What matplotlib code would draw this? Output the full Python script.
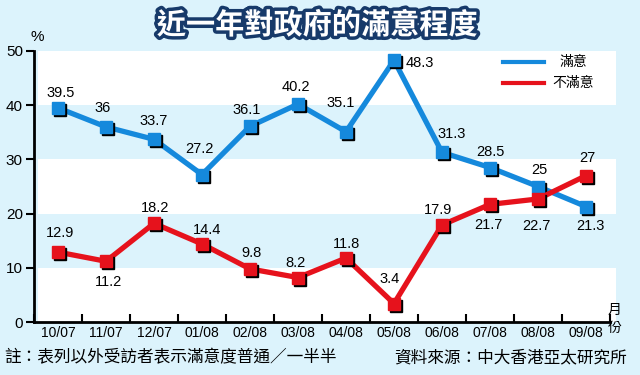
import matplotlib
matplotlib.use("Agg")
import matplotlib.pyplot as plt
import matplotlib.patheffects as pe
import matplotlib.transforms as mtransforms
from matplotlib.lines import Line2D

plt.rcParams['font.family'] = ['Liberation Sans', 'Noto Sans CJK TC', 'DejaVu Sans']

months = ['10/07', '11/07', '12/07', '01/08', '02/08', '03/08',
          '04/08', '05/08', '06/08', '07/08', '08/08', '09/08']
satisfied = [39.5, 36, 33.7, 27.2, 36.1, 40.2, 35.1, 48.3, 31.3, 28.5, 25, 21.3]
unsatisfied = [12.9, 11.2, 18.2, 14.4, 9.8, 8.2, 11.8, 3.4, 17.9, 21.7, 22.7, 27]
sat_labels = ['39.5', '36', '33.7', '27.2', '36.1', '40.2', '35.1', '48.3', '31.3', '28.5', '25', '21.3']
unsat_labels = ['12.9', '11.2', '18.2', '14.4', '9.8', '8.2', '11.8', '3.4', '17.9', '21.7', '22.7', '27']

# label offsets in pixels (dx, dy)
sat_off = [(3, 15), (-3, 19), (0, 18), (-3, 26), (-3, 16), (-2, 17), (-5, 29), (26, -3), (10, 18), (0, 16), (1, 17), (4, -19)]
unsat_off = [(2, 19), (2, -21), (1, 15), (5, 14), (2, 16), (-2, 15), (0, 14), (-4, 25), (-4, 15), (-2, -21), (-2, -27), (1, 18)]

bg = '#dcf3fc'
blue = '#1589dc'
red = '#e6121c'

fig = plt.figure(figsize=(6.4, 3.75), dpi=100)
fig.patch.set_facecolor(bg)
ax = fig.add_axes([34 / 640, 1 - 322 / 375, 582 / 640, 271 / 375])
ax.set_facecolor(bg)
x = list(range(len(months)))
ax.set_xlim(-0.5, 11.625)
ax.set_ylim(0, 50)

for lo in (0, 20, 40):
    ax.axhspan(lo, lo + 10, xmin=0.007, color='white', lw=0, zorder=0)

shadow = mtransforms.offset_copy(ax.transData, fig=fig, x=2, y=-2, units='dots')
for k, (vals, col) in enumerate(((satisfied, blue), (unsatisfied, red))):
    z = 3 + 3 * k
    ax.plot(x, vals, color=col, lw=3.8, zorder=z)
    ax.plot(x, vals, ls='none', marker='s', ms=8, color='black', transform=shadow, zorder=z + 1)
    ax.plot(x, vals, ls='none', marker='s', ms=8, color=col, mec=col, zorder=z + 2)

for i in x:
    ax.annotate(sat_labels[i], (i, satisfied[i]), xytext=sat_off[i], textcoords='offset pixels',
                ha='center', va='center', fontsize=10.5, zorder=10)
    ax.annotate(unsat_labels[i], (i, unsatisfied[i]), xytext=unsat_off[i], textcoords='offset pixels',
                ha='center', va='center', fontsize=10.5, zorder=10)

for s in ('top', 'right'):
    ax.spines[s].set_visible(False)
ax.spines['left'].set_linewidth(2)
ax.spines['bottom'].set_linewidth(2)
ax.spines['bottom'].set_bounds(-0.5, 11.5)

ax.set_yticks([0, 10, 20, 30, 40, 50])
ax.tick_params(axis='y', direction='out', length=6, width=1.5, labelsize=11, pad=2)
ax.set_xticks([i + 0.5 for i in range(-1, 12)], minor=False)
ax.set_xticklabels([])
ax.tick_params(axis='x', which='major', direction='in', length=6, width=1.5)
ax.set_xticks(x, minor=True)
ax.set_xticklabels(months, minor=True)
ax.tick_params(axis='x', which='minor', length=0, labelsize=10, pad=3)

# legend drawn by hand
for yy, col, name in ((62, blue, '滿意'), (83, red, '不滿意')):
    fig.add_artist(Line2D([503 / 640, 544 / 640], [1 - yy / 375, 1 - yy / 375],
                          transform=fig.transFigure, color=col, lw=3))
    fig.text(573 / 640, 1 - yy / 375, name, ha='center', va='center', fontsize=10,
             family=['Noto Sans CJK TC'])

fig.text(317 / 640, 1 - 25 / 375, '近一年對政府的滿意程度', ha='center', va='center',
         fontsize=21, fontweight='black', color='white', family=['Noto Sans CJK TC'],
         path_effects=[pe.withStroke(linewidth=5, foreground='#173a6a')])
fig.text(37 / 640, 1 - 37 / 375, '%', ha='center', va='center', fontsize=11)
fig.text(615 / 640, 1 - 310 / 375, '月', ha='center', va='center', fontsize=10,
         family=['Noto Sans CJK TC'])
fig.text(615 / 640, 1 - 328 / 375, '份', ha='center', va='center', fontsize=10,
         family=['Noto Sans CJK TC'])
fig.text(4 / 640, 1 - 358 / 375, '註：表列以外受訪者表示滿意度普通／一半半', ha='left', va='center',
         fontsize=12, family=['Noto Sans CJK TC'])
fig.text(627 / 640, 1 - 358 / 375, '資料來源：中大香港亞太研究所', ha='right', va='center',
         fontsize=12, family=['Noto Sans CJK TC'])

fig.savefig('out.png', dpi=100, facecolor=bg)
